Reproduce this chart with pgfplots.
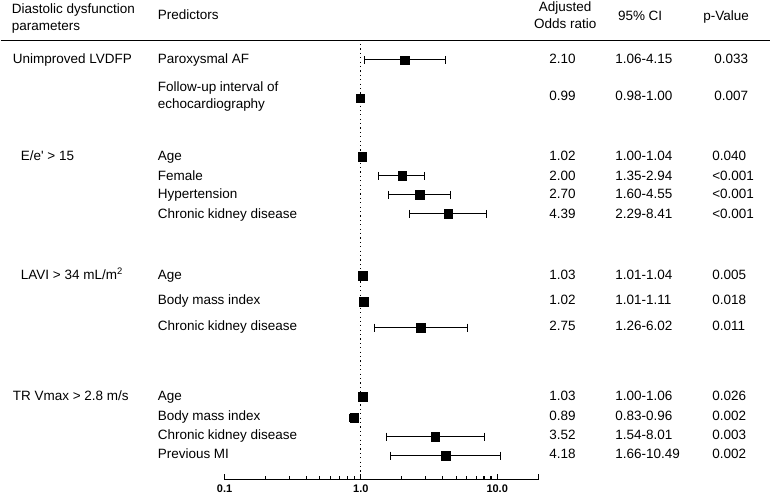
\documentclass[border=0pt]{standalone}
\usepackage{pgfplots}
\pgfplotsset{compat=1.18}
\usepackage{fontspec}
\setmainfont{Liberation Sans}

\begin{document}
\begin{tikzpicture}[font=\fontsize{13.5}{15}\selectfont, x=1pt, y=1pt]
% page frame, 774 x 501
\path (0,0) rectangle (774,-501);

\begin{axis}[
    at={(224pt,-480pt)}, anchor=south west,
    scale only axis,
    width=314pt, height=440pt,
    xmode=log,
    xmin=0.1, xmax=20,
    ymin=40, ymax=480,
    y dir=reverse,
    axis x line=bottom,
    axis y line=none,
    x axis line style={-, line width=1.3pt},
    clip=false,
    xtick={0.1,1,10},
    xticklabels={0.1,1.0,10.0},
    minor xtick={0.2,0.3,0.4,0.5,0.6,0.7,0.8,0.9,2,3,4,5,6,7,8,9},
    extra x ticks={20},
    extra x tick labels={},
    tick align=inside,
    major tick length=6pt,
    minor tick length=4pt,
    every tick/.style={black, line width=1.1pt},
    tick label style={font=\bfseries\fontsize{11}{12}\selectfont, yshift=-2pt},
    /pgf/number format/assume math mode=true,
  ]
  % line of no effect
  \addplot[black, line width=1.2pt, dash pattern=on 1.2pt off 3.2pt] coordinates {(1,44) (1,480)};

  % 95% CI
  \addplot[black, line width=1pt, mark=|, mark size=4pt] coordinates {(1.06,60) (4.15,60)};
  \addplot[black, line width=1pt, mark=|, mark size=4pt] coordinates {(0.98,98) (1.00,98)};
  \addplot[black, line width=1pt, mark=|, mark size=4pt] coordinates {(1.00,157) (1.04,157)};
  \addplot[black, line width=1pt, mark=|, mark size=4pt] coordinates {(1.35,176) (2.94,176)};
  \addplot[black, line width=1pt, mark=|, mark size=4pt] coordinates {(1.60,195) (4.55,195)};
  \addplot[black, line width=1pt, mark=|, mark size=4pt] coordinates {(2.29,214) (8.41,214)};
  \addplot[black, line width=1pt, mark=|, mark size=4pt] coordinates {(1.01,276) (1.04,276)};
  \addplot[black, line width=1pt, mark=|, mark size=4pt] coordinates {(1.01,302) (1.11,302)};
  \addplot[black, line width=1pt, mark=|, mark size=4pt] coordinates {(1.26,328) (6.02,328)};
  \addplot[black, line width=1pt, mark=|, mark size=4pt] coordinates {(1.00,397) (1.06,397)};
  \addplot[black, line width=1pt, mark=|, mark size=4pt] coordinates {(0.83,418) (0.96,418)};
  \addplot[black, line width=1pt, mark=|, mark size=4pt] coordinates {(1.54,437) (8.01,437)};
  \addplot[black, line width=1pt, mark=|, mark size=4pt] coordinates {(1.66,456) (10.49,456)};

  % adjusted odds ratios
  \addplot[only marks, mark=square*, mark size=4.2pt, black] coordinates {
    (2.10,60) (0.99,98)
    (1.02,157) (2.00,176) (2.70,195) (4.39,214)
    (1.03,276) (1.05,302) (2.75,328)
    (1.03,397) (0.89,418) (3.52,437) (4.18,456)
  };
\end{axis}

% header
\draw[line width=1.5pt] (0,-40.7) -- (770,-40.7);
\node[anchor=mid west, inner sep=0] at (11,-11) {Diastolic dysfunction};
\node[anchor=mid west, inner sep=0] at (11,-28) {parameters};
\node[anchor=mid west, inner sep=0] at (157,-17) {Predictors};
\node[anchor=mid, inner sep=0] at (565,-9) {Adjusted};
\node[anchor=mid, inner sep=0] at (565,-26) {Odds ratio};
\node[anchor=mid, inner sep=0] at (640,-18) {95\% CI};
\node[anchor=mid, inner sep=0] at (726,-18) {p-Value};

% parameter column
\begin{scope}[every node/.style={anchor=mid west, inner sep=0}]
\node at (12,-61) {Unimproved LVDFP};
\node at (20,-158) {E/e\textquotesingle\ > 15};
\node at (20,-277) {LAVI > 34 mL/m\textsuperscript{2}};
\node at (12,-398) {TR Vmax > 2.8 m/s};

% predictors
\node at (157,-61) {Paroxysmal AF};
\node at (157,-89) {Follow-up interval of};
\node at (157,-106) {echocardiography};
\node at (157,-158) {Age};
\node at (157,-178) {Female};
\node at (157,-196) {Hypertension};
\node at (157,-216) {Chronic kidney disease};
\node at (157,-277) {Age};
\node at (157,-302) {Body mass index};
\node at (157,-328) {Chronic kidney disease};
\node at (157,-398) {Age};
\node at (157,-418) {Body mass index};
\node at (157,-437) {Chronic kidney disease};
\node at (157,-456) {Previous MI};

% odds ratio
\node at (549,-61) {2.10};
\node at (549,-98) {0.99};
\node at (549,-158) {1.02};
\node at (549,-178) {2.00};
\node at (549,-196) {2.70};
\node at (549,-216) {4.39};
\node at (549,-277) {1.03};
\node at (549,-302) {1.02};
\node at (549,-328) {2.75};
\node at (549,-398) {1.03};
\node at (549,-418) {0.89};
\node at (549,-437) {3.52};
\node at (549,-456) {4.18};

% 95% CI
\node at (615,-61) {1.06-4.15};
\node at (615,-98) {0.98-1.00};
\node at (615,-158) {1.00-1.04};
\node at (615,-178) {1.35-2.94};
\node at (615,-196) {1.60-4.55};
\node at (615,-216) {2.29-8.41};
\node at (615,-277) {1.01-1.04};
\node at (615,-302) {1.01-1.11};
\node at (615,-328) {1.26-6.02};
\node at (615,-398) {1.00-1.06};
\node at (615,-418) {0.83-0.96};
\node at (615,-437) {1.54-8.01};
\node at (615,-456) {1.66-10.49};

% p-value
\node at (714,-61) {0.033};
\node at (714,-98) {0.007};
\node at (712,-158) {0.040};
\node at (712,-178) {<0.001};
\node at (712,-196) {<0.001};
\node at (712,-216) {<0.001};
\node at (712,-277) {0.005};
\node at (712,-302) {0.018};
\node at (712,-328) {0.011};
\node at (712,-398) {0.026};
\node at (712,-418) {0.002};
\node at (712,-437) {0.003};
\node at (712,-456) {0.002};
\end{scope}
\end{tikzpicture}
\end{document}
